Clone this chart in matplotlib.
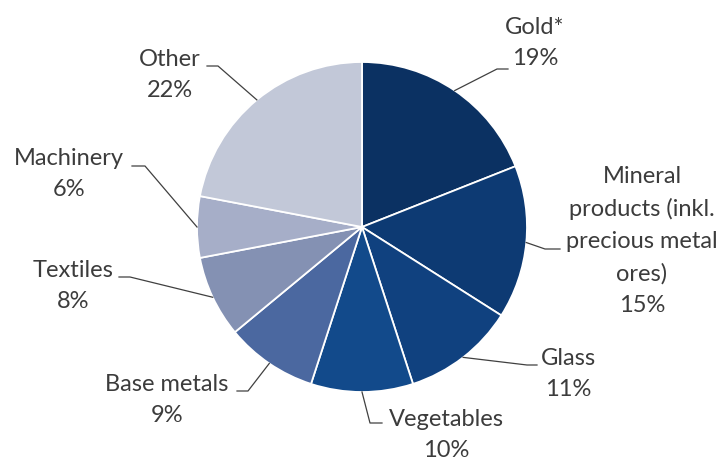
import numpy as np
import matplotlib
matplotlib.use("Agg")
import matplotlib.pyplot as plt

plt.rcParams['font.family'] = ['Lato', 'DejaVu Sans']

# export shares by product group, percent
categories = ["Gold*", "Mineral\nproducts (inkl.\nprecious metal\nores)", "Glass",
              "Vegetables", "Base metals", "Textiles", "Machinery", "Other"]
shares = [19, 15, 11, 10, 9, 8, 6, 22]
colors = ["#0b3162", "#0d3a73", "#10417f", "#124a8b", "#4b68a0",
          "#8491b3", "#a6aec8", "#c2c8d8"]

# label layout in pixel units (y measured from the top): text centre, leader elbow, leader end
text_pos = [(535, 43), (642, 241), (568, 374), (446, 435), (167, 400), (73, 286), (69, 174), (170, 75)]
elbows = [(497, 69), (545, 249), (527, 365), (370, 423), (248, 391), (130, 277), (145, 166), (218, 66)]
ends = [(508, 69), (560, 249), (537, 365), (382, 423), (237, 391), (119, 277), (132, 166), (207, 66)]

W, H = 724, 463
cx, cy, R = 362, 227, 165

fig = plt.figure(figsize=(W / 100, H / 100), dpi=100)
ax = fig.add_axes([0, 0, 1, 1])

wedges, _ = ax.pie(shares, colors=colors, startangle=90, counterclock=False,
                   center=(cx, H - cy), radius=R, frame=True,
                   wedgeprops=dict(edgecolor='white', linewidth=1.3))
ax.set_xlim(0, W)
ax.set_ylim(0, H)
ax.set_aspect('equal')
ax.axis('off')

txt_color = "#3c3c3c"
for w, name, val, tp, el, en in zip(wedges, categories, shares, text_pos, elbows, ends):
    mid = np.deg2rad((w.theta1 + w.theta2) / 2)
    sx = cx + R * np.cos(mid)
    sy = (H - cy) + R * np.sin(mid)
    ax.plot([sx, el[0], en[0]], [sy, H - el[1], H - en[1]], color="#404040", lw=0.9)
    ax.text(tp[0], H - tp[1], f"{name}\n{val}%", ha='center', va='center',
            fontsize=17, color=txt_color, linespacing=1.62)

fig.savefig("out.png", dpi=100)
